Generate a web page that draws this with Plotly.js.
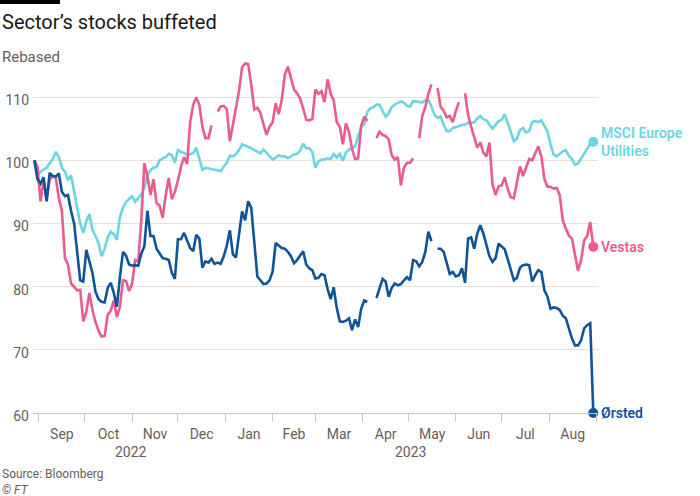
<!DOCTYPE html>
<html><head><meta charset="utf-8">
<script src="https://cdn.plot.ly/plotly-3.0.1.min.js"></script>
<style>html,body{margin:0;padding:0;background:#fff}#chart{width:700px;height:496px}</style>
</head><body><div id="chart"></div>
<script>
// ---- data (rebased, start = 100) ----
const dates = [
'2022-08-29','2022-08-31',
'2022-09-02','2022-09-04','2022-09-06','2022-09-08','2022-09-10','2022-09-12','2022-09-14','2022-09-16','2022-09-18','2022-09-20','2022-09-22','2022-09-24','2022-09-26','2022-09-28','2022-09-30',
'2022-10-02','2022-10-04','2022-10-06','2022-10-08','2022-10-10','2022-10-12','2022-10-14','2022-10-16','2022-10-18','2022-10-20','2022-10-22','2022-10-24','2022-10-26','2022-10-28','2022-10-30',
'2022-11-01','2022-11-03','2022-11-05','2022-11-07','2022-11-09','2022-11-11','2022-11-13','2022-11-15','2022-11-17','2022-11-19','2022-11-21','2022-11-23','2022-11-25','2022-11-27','2022-11-29',
'2022-12-01','2022-12-03','2022-12-05','2022-12-07','2022-12-09','2022-12-11','2022-12-13','2022-12-15','2022-12-17','2022-12-19','2022-12-21','2022-12-23','2022-12-25','2022-12-27','2022-12-29','2022-12-31',
'2023-01-02','2023-01-04','2023-01-06','2023-01-08','2023-01-10','2023-01-12','2023-01-14','2023-01-16','2023-01-18','2023-01-20','2023-01-22','2023-01-24','2023-01-26','2023-01-28','2023-01-30',
'2023-02-01','2023-02-03','2023-02-05','2023-02-07','2023-02-09','2023-02-11','2023-02-13','2023-02-15','2023-02-17','2023-02-19','2023-02-21','2023-02-23','2023-02-25','2023-02-27',
'2023-03-01','2023-03-03','2023-03-05','2023-03-07','2023-03-09','2023-03-11','2023-03-13','2023-03-15','2023-03-17','2023-03-19','2023-03-21','2023-03-23','2023-03-25','2023-03-27','2023-03-29','2023-03-31',
'2023-04-02','2023-04-04','2023-04-06','2023-04-08','2023-04-10','2023-04-12','2023-04-14','2023-04-16','2023-04-18','2023-04-20','2023-04-22','2023-04-24','2023-04-26','2023-04-28','2023-04-30',
'2023-05-02','2023-05-04','2023-05-06','2023-05-08','2023-05-10','2023-05-12','2023-05-14','2023-05-16','2023-05-18','2023-05-20','2023-05-22','2023-05-24','2023-05-26','2023-05-28','2023-05-30',
'2023-06-01','2023-06-03','2023-06-05','2023-06-07','2023-06-09','2023-06-11','2023-06-13','2023-06-15','2023-06-17','2023-06-19','2023-06-21','2023-06-23','2023-06-25','2023-06-27','2023-06-29',
'2023-07-01','2023-07-03','2023-07-05','2023-07-07','2023-07-09','2023-07-11','2023-07-13','2023-07-15','2023-07-17','2023-07-19','2023-07-21','2023-07-23','2023-07-25','2023-07-27','2023-07-29','2023-07-31',
'2023-08-02','2023-08-04','2023-08-06','2023-08-08','2023-08-10','2023-08-12','2023-08-14','2023-08-16','2023-08-18','2023-08-20','2023-08-22','2023-08-24','2023-08-26','2023-08-28','2023-08-30'
];

const msci = [
100,97.5,
98.2,98.5,98.8,99.5,100.2,101.3,100.5,98.8,98.2,96.8,97.6,95.0,92.6,90.0,88.5,
90.3,91.5,89.0,88.0,86.9,84.8,86.0,87.8,88.7,88.3,87.4,91.0,92.5,93.4,93.8,
94.3,93.4,94.0,94.6,95.6,97.6,98.4,98.8,98.9,100.0,100.3,100.5,101.0,100.8,99.6,
101.6,101.3,101.2,100.8,100.9,101.1,102.0,100.0,98.5,98.8,98.7,98.6,98.5,98.5,98.3,99.0,
99.6,100.7,100.6,101.0,101.6,102.5,102.3,102.2,101.9,101.6,101.4,101.1,101.7,101.2,100.7,
100.1,100.4,100.8,100.6,100.6,100.3,100.6,100.9,101.0,101.5,102.6,101.9,101.9,101.3,
98.8,99.8,100.1,100.1,100.3,100.2,101.0,100.4,101.0,99.9,101.2,101.7,101.9,102.2,103.8,105.2,
105.7,107.6,108.2,108.4,108.8,108.8,107.8,106.9,107.4,108.4,108.8,109.1,109.3,109.1,108.6,
108.5,109.3,109.3,109.2,109.1,109.5,109.5,108.5,107.2,106.7,106.9,105.6,104.6,104.6,105.1,
105.2,105.4,105.6,105.6,105.9,105.9,106.0,106.6,107.0,106.5,106.3,105.6,105.0,105.6,106.2,
106.4,107.3,105.9,104.3,103.0,103.4,104.8,105.1,104.4,104.6,106.0,106.2,106.0,106.3,105.3,104.5,
102.5,100.9,100.6,101.0,101.4,101.6,100.7,100.2,99.3,99.5,100.3,101.0,101.9,102.6,102.9
];

const vestas = [
100,99.0,
93.5,96.8,93.8,96.9,97.5,97.2,94.0,92.0,84.5,83.5,80.5,80.0,79.4,79.5,74.5,
76.0,79.0,76.3,74.4,73.0,72.1,72.2,75.5,76.2,77.8,75.2,76.8,81.0,80.9,79.3,
80.5,84.2,84.0,90.5,99.5,97.5,94.5,97.0,93.2,92.8,90.9,94.5,97.2,93.8,95.0,
96.8,99.0,100.5,99.4,106.0,108.8,109.9,108.8,105.3,103.5,103.5,105.5,null,107.7,108.5,108.6,
108.1,103.0,106.0,108.3,111.0,114.7,115.3,115.2,112.0,108.0,108.3,107.5,105.7,104.0,105.3,
106.0,109.0,107.3,109.6,113.5,114.8,112.8,111.2,110.6,109.8,108.2,106.4,106.3,106.5,
111.2,110.5,110.9,109.2,112.8,110.5,109.5,106.0,105.3,102.5,105.8,104.5,101.8,100.2,100.3,105.5,
106.9,106.2,null,null,103.5,104.5,104.0,103.8,103.3,100.8,100.1,100.5,96.0,98.8,99.6,
99.6,100.3,null,103.5,107.0,108.4,110.5,112.0,null,111.4,108.5,107.8,106.8,107.0,106.0,
107.8,109.2,null,110.6,107.2,105.3,103.8,102.0,102.8,101.2,100.6,102.8,96.2,94.5,95.9,
96.0,97.3,95.4,94.1,94.0,96.5,99.0,97.5,98.8,100.2,100.0,101.2,102.2,100.6,97.0,95.8,
95.8,95.5,95.6,94.5,90.5,89.2,88.1,87.6,85.2,82.5,84.2,87.3,88.0,90.2,86.3
];

const orsted = [
100,97.0,
96.3,97.3,93.5,98.0,97.5,97.4,97.9,95.0,94.3,94.5,92.0,90.0,85.5,81.0,80.8,
85.8,84.0,82.2,79.2,78.0,77.6,77.5,79.8,80.6,79.0,76.8,81.5,85.5,84.9,83.5,
83.3,83.4,83.3,85.2,86.4,92.0,88.0,88.0,86.0,85.3,84.5,84.4,84.2,82.2,81.2,
87.5,87.5,88.5,87.2,86.1,85.6,88.2,87.6,83.0,84.0,83.8,84.4,83.6,83.8,83.6,84.8,
86.5,88.9,85.1,84.6,88.5,91.9,90.5,93.5,92.5,87.0,81.6,81.0,80.4,80.5,81.0,
82.4,86.9,86.5,86.1,86.0,85.5,84.8,83.7,84.2,85.0,85.6,83.5,82.9,82.6,
81.3,81.4,82.0,81.8,79.6,78.0,79.9,76.6,74.5,74.4,74.6,75.0,73.1,74.8,73.6,76.5,
77.8,77.6,null,null,78.2,79.8,81.2,80.8,78.4,79.8,80.5,80.2,80.4,81.0,81.5,
81.0,84.2,84.0,83.2,83.9,85.5,88.7,87.2,null,86.0,86.0,85.5,83.9,82.0,82.3,
81.6,81.8,82.9,80.6,87.6,87.8,86.0,88.4,89.7,88.4,86.5,84.8,83.9,84.5,86.8,
86.4,85.9,84.3,82.8,81.0,81.4,83.0,83.4,83.5,83.4,80.8,81.8,82.6,82.3,79.4,78.4,
76.5,76.7,76.6,76.3,75.4,75.0,73.5,71.8,70.7,70.7,71.5,73.4,73.9,74.2,60.0
];

const seriesLabels = ['MSCI Europe<br>Utilities', 'Vestas', 'Ørsted'];
const seriesValues = [msci, vestas, orsted];
const seriesColors = ['#6bd6e1', '#ec5b8d', '#0f5499'];

const yTickValues = [60, 70, 80, 90, 100, 110];
const yearLabels = ['2022', '2023'];
const yearCentres = ['2022-10-31', '2023-05-02'];

const titleText = 'Sector\u2019s stocks buffeted';
const subtitleText = 'Rebased';
const sourceText = 'Source: Bloomberg';
const creditText = '<i>\u00a9 FT</i>';

// ---- layout helpers (page pixel -> paper fraction) ----
const W = 700, H = 496;
const M = {l: 33, r: 102, t: 55, b: 83};
const PW = W - M.l - M.r, PH = H - M.t - M.b;
const px = X => (X - M.l) / PW;
const py = Y => (H - M.b - Y) / PH;

const FONT = 'Roboto, "Open Sans", sans-serif';
const GREY = '#66605c';

const traces = [];
seriesValues.forEach((vals, i) => {
  traces.push({
    type: 'scatter', mode: 'lines', x: dates, y: vals,
    line: {color: seriesColors[i], width: 2.6, shape: 'linear'},
    connectgaps: false, hoverinfo: 'skip'
  });
});
seriesValues.forEach((vals, i) => {
  const last = vals.length - 1;
  traces.push({
    type: 'scatter', mode: 'markers', x: [dates[last]], y: [vals[last]],
    marker: {color: seriesColors[i], size: 10},
    cliponaxis: false, hoverinfo: 'skip'
  });
});

const annotations = [];
seriesValues.forEach((vals, i) => {
  const last = vals.length - 1;
  annotations.push({
    x: dates[last], y: vals[last], xref: 'x', yref: 'y',
    text: seriesLabels[i], showarrow: false, xanchor: 'left', yanchor: 'middle',
    align: 'left', xshift: 6,
    font: {family: FONT, size: 14, color: seriesColors[i], weight: 600}
  });
});
yearLabels.forEach((t, i) => {
  annotations.push({
    x: yearCentres[i], xref: 'x', y: py(452), yref: 'paper',
    text: t, showarrow: false, xanchor: 'center', yanchor: 'middle',
    font: {family: FONT, size: 14, color: GREY}
  });
});
annotations.push(
  {x: px(0), y: py(22), xref: 'paper', yref: 'paper', text: titleText, showarrow: false,
   xanchor: 'left', yanchor: 'middle', font: {family: FONT, size: 20, color: '#1a1817'}},
  {x: px(0), y: py(57), xref: 'paper', yref: 'paper', text: subtitleText, showarrow: false,
   xanchor: 'left', yanchor: 'middle', font: {family: FONT, size: 15, color: GREY}},
  {x: px(0), y: py(474), xref: 'paper', yref: 'paper', text: sourceText, showarrow: false,
   xanchor: 'left', yanchor: 'middle', font: {family: FONT, size: 12, color: GREY}},
  {x: px(0), y: py(490), xref: 'paper', yref: 'paper', text: creditText, showarrow: false,
   xanchor: 'left', yanchor: 'middle', font: {family: FONT, size: 12, color: GREY}}
);

const layout = {
  width: W, height: H, margin: M,
  paper_bgcolor: '#ffffff', plot_bgcolor: '#ffffff',
  font: {family: FONT, size: 14, color: GREY},
  showlegend: false,
  xaxis: {
    type: 'date', range: ['2022-08-28 02:00', '2023-09-02 02:00'],
    tick0: '2022-09-01', dtick: 'M1', tickformat: '%b', ticklabelmode: 'period',
    ticks: 'outside', ticklen: 8, tickwidth: 1, tickcolor: '#cfc7bf',
    showline: true, linecolor: '#cfc7bf', linewidth: 1,
    showgrid: false, zeroline: false,
    tickfont: {family: FONT, size: 14, color: GREY}, fixedrange: true
  },
  yaxis: {
    range: [60, 60 + PH / 6.32], tickmode: 'array', tickvals: yTickValues,
    showgrid: true, gridcolor: '#e8dfd7', gridwidth: 1,
    zeroline: false, showline: false, ticks: '',
    ticklabelshift: 3, ticklabelstandoff: 3,
    tickfont: {family: FONT, size: 14, color: GREY}, fixedrange: true
  },
  shapes: [
    {type: 'rect', xref: 'paper', yref: 'paper', x0: px(0), x1: px(60), y0: py(4), y1: py(0),
     fillcolor: '#000000', line: {width: 0}}
  ],
  annotations: annotations
};

Plotly.newPlot('chart', traces, layout, {staticPlot: true, displayModeBar: false});
</script>
</body></html>
